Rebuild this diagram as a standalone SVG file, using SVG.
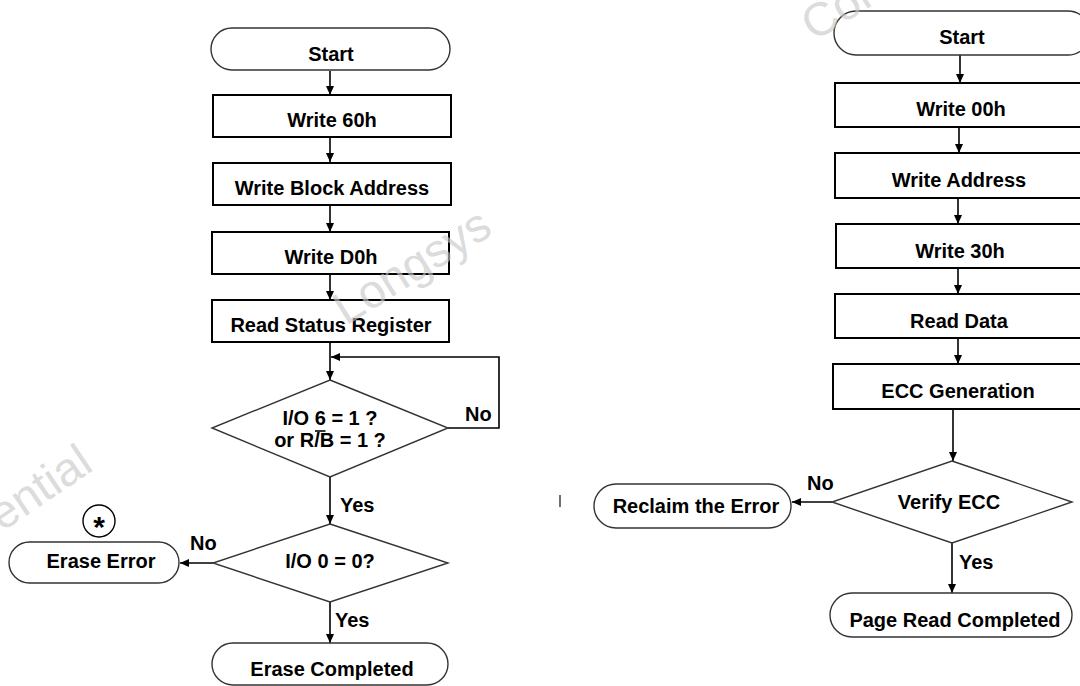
<svg xmlns="http://www.w3.org/2000/svg" width="1080" height="686" viewBox="0 0 1080 686">
<defs>
<marker id="ah" markerUnits="userSpaceOnUse" markerWidth="10" markerHeight="8" refX="9" refY="4" orient="auto">
<path d="M0,0 L9,4 L0,8 Z" fill="#000"/>
</marker>
<style>
.box{fill:#fff;stroke:#000;stroke-width:2}
.term{fill:#fff;stroke:#333;stroke-width:1.4}
.dia{fill:#fff;stroke:#333;stroke-width:1.4}
.t{font-family:"Liberation Sans",Arial,sans-serif;font-weight:bold;font-size:20px;fill:#000}
.c{text-anchor:middle}
.arr{fill:none;stroke:#000;stroke-width:1.6;marker-end:url(#ah)}
.wm{font-family:"Liberation Sans",Arial,sans-serif;font-size:47px;fill:#c8c8c8;fill-opacity:0.65}
</style>
</defs>
<rect width="1080" height="686" fill="#fff"/>
<g id="connectors">
<line class="arr" x1="330" y1="71" x2="330" y2="95"/>
<line class="arr" x1="330" y1="137" x2="330" y2="162"/>
<line class="arr" x1="330" y1="205" x2="330" y2="232"/>
<line class="arr" x1="330" y1="274" x2="330" y2="300"/>
<line class="arr" x1="330" y1="342" x2="330" y2="380"/>
<polyline class="arr" points="448,428 499,428 499,357 331,357"/>
<line class="arr" x1="330" y1="477" x2="330" y2="524"/>
<line class="arr" x1="213" y1="563" x2="180" y2="563"/>
<line class="arr" x1="330" y1="602" x2="330" y2="643"/>
<line class="arr" x1="960" y1="55" x2="960" y2="83"/>
<line class="arr" x1="959" y1="127" x2="959" y2="153"/>
<line class="arr" x1="958" y1="198" x2="958" y2="224"/>
<line class="arr" x1="958" y1="268" x2="958" y2="294"/>
<line class="arr" x1="958" y1="338" x2="958" y2="364"/>
<line class="arr" x1="953" y1="409" x2="953" y2="461"/>
<line class="arr" x1="832" y1="502" x2="792" y2="502"/>
<line class="arr" x1="952" y1="543" x2="952" y2="593"/>
</g>
<g id="labels">
<text class="t" x="465" y="421">No</text>
<text class="t" x="340" y="512">Yes</text>
<text class="t" x="190" y="550">No</text>
<text class="t" x="335" y="627">Yes</text>
<text class="t" x="807" y="490">No</text>
<text class="t" x="959" y="569">Yes</text>
</g>
<g id="n_start1"><rect class="term" x="211" y="28" width="239" height="42" rx="21"/><text class="t c" x="331" y="61">Start</text></g>
<g id="n_w60"><rect class="box" x="213" y="95" width="238" height="42"/><text class="t c" x="332" y="126.5">Write 60h</text></g>
<g id="n_wba"><rect class="box" x="213" y="163" width="238" height="42"/><text class="t c" x="332" y="195">Write Block Address</text></g>
<g id="n_wd0"><rect class="box" x="212" y="232" width="237" height="42"/><text class="t c" x="331" y="264">Write D0h</text></g>
<g id="n_rsr"><rect class="box" x="212" y="300" width="237" height="42"/><text class="t c" x="331" y="332">Read Status Register</text></g>
<g id="n_d1"><polygon class="dia" points="330,380 448,428 330,477 212,428"/>
<text class="t c" x="330" y="425">I/O 6 = 1 ?</text>
<text class="t c" x="330" y="446.5">or R/B = 1 ?</text>
<line x1="315" y1="431" x2="325.5" y2="431" stroke="#000" stroke-width="1.6"/></g>
<g id="n_d2"><polygon class="dia" points="330,524 448,563 330,602 213,563"/><text class="t c" x="330" y="568">I/O 0 = 0?</text></g>
<g id="n_err"><rect class="term" x="9" y="542" width="170" height="41" rx="20.5"/><text class="t c" x="101" y="568">Erase Error</text></g>
<g id="n_star"><circle cx="99" cy="521" r="16" fill="#fff" stroke="#000" stroke-width="1.4"/><text class="t c" x="99" y="537" style="font-size:30px">*</text></g>
<g id="n_done1"><rect class="term" x="212" y="643" width="236" height="42" rx="21"/><text class="t c" x="332" y="676">Erase Completed</text></g>
<g id="n_start2"><rect class="term" x="834" y="11" width="256" height="44" rx="22"/><text class="t c" x="962" y="44">Start</text></g>
<g id="n_w00"><rect class="box" x="835" y="83" width="260" height="44"/><text class="t c" x="961" y="115.5">Write 00h</text></g>
<g id="n_wa"><rect class="box" x="835" y="153" width="260" height="45"/><text class="t c" x="959" y="186.5">Write Address</text></g>
<g id="n_w30"><rect class="box" x="836" y="224" width="260" height="44"/><text class="t c" x="960" y="258">Write 30h</text></g>
<g id="n_rd"><rect class="box" x="835" y="294" width="260" height="44"/><text class="t c" x="959" y="327.5">Read Data</text></g>
<g id="n_ecc"><rect class="box" x="833" y="364" width="262" height="45"/><text class="t c" x="958" y="398">ECC Generation</text></g>
<g id="n_vecc"><polygon class="dia" points="952,461 1072,502 952,543 832,502"/><text class="t c" x="949" y="509">Verify ECC</text></g>
<g id="n_recl"><rect class="term" x="594" y="484" width="197" height="44" rx="22"/><text class="t c" x="696" y="513">Reclaim the Error</text></g>
<g id="n_done2"><rect class="term" x="830" y="593" width="242" height="44" rx="22"/><text class="t c" x="955" y="626.5">Page Read Completed</text></g>
<line x1="560" y1="495" x2="560" y2="507" stroke="#333" stroke-width="1.4"/>
<g id="watermarks">
<text class="wm" transform="translate(346,326) rotate(-32)">Longsys</text>
<text class="wm" transform="translate(2,532) rotate(-34)">ential</text>
<text class="wm" transform="translate(814,42) rotate(-32)">Con</text>
</g>
</svg>
